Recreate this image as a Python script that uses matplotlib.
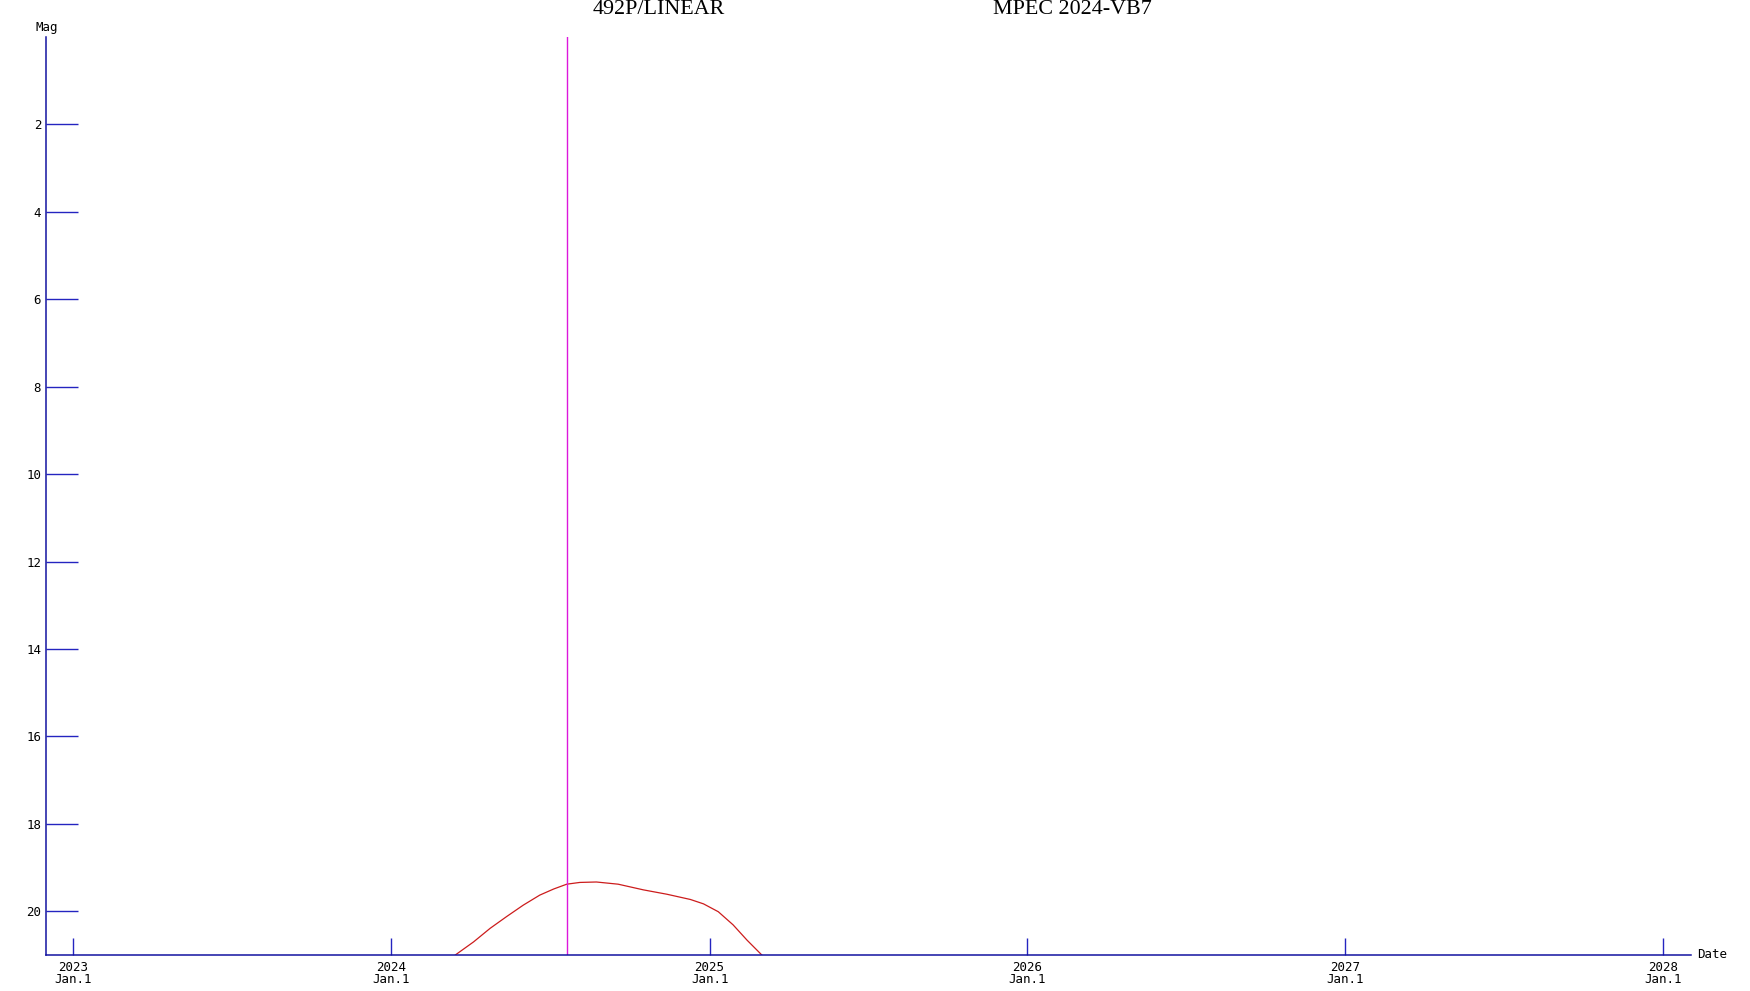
#!/usr/bin/env python3
"""Magnitude vs date plot for 492P/LINEAR (MPEC 2024-VB7)."""

import datetime as dt

import matplotlib
matplotlib.use("Agg")
import matplotlib.pyplot as plt

# ------------------------------------------------------------
# Data
# ------------------------------------------------------------
CURVE_DATES = [
    "2024-03-15", "2024-04-05", "2024-04-24", "2024-05-13", "2024-06-01",
    "2024-06-20", "2024-07-06", "2024-07-21", "2024-08-05", "2024-08-24",
    "2024-09-18", "2024-10-17", "2024-11-13", "2024-12-10", "2024-12-25",
    "2025-01-11", "2025-01-28", "2025-02-13", "2025-02-28", "2025-03-02",
]
CURVE_MAG = [
    21.0, 20.70, 20.39, 20.12, 19.86,
    19.63, 19.49, 19.38, 19.34, 19.33,
    19.38, 19.51, 19.61, 19.73, 19.83,
    20.01, 20.31, 20.66, 20.96, 21.0,
]
NOW_DATE = "2024-07-21"

YEAR_TICKS = [2023, 2024, 2025, 2026, 2027, 2028]
MAG_TICKS = [2, 4, 6, 8, 10, 12, 14, 16, 18, 20]
MAG_RANGE = (0, 21)
DATE_RANGE = ("2022-12-01", "2028-02-02")

TITLE_LEFT = "492P/LINEAR"
TITLE_RIGHT = "MPEC 2024-VB7"

AXIS_COLOR = "#1414a0"
TICK_COLOR = "#2424c0"
CURVE_COLOR = "#cc1c1c"
NOW_COLOR = "#dc18dc"
MONO = "DejaVu Sans Mono"


def to_date(s):
    return dt.datetime.strptime(s, "%Y-%m-%d")


def main():
    W, H = 1750, 991
    fig = plt.figure(figsize=(W / 100, H / 100), dpi=100)
    left, right, bottom, top = 46, 1691, 955, 37
    ax = fig.add_axes([left / W, (H - bottom) / H, (right - left) / W, (bottom - top) / H])

    dates = [to_date(d) for d in CURVE_DATES]
    ax.plot(dates, CURVE_MAG, color=CURVE_COLOR, linewidth=0.9)
    ax.axvline(to_date(NOW_DATE), color=NOW_COLOR, linewidth=1.0)

    ax.set_xlim(to_date(DATE_RANGE[0]), to_date(DATE_RANGE[1]))
    ax.set_ylim(MAG_RANGE[1], MAG_RANGE[0])

    for side in ("top", "right"):
        ax.spines[side].set_visible(False)
    for side in ("left", "bottom"):
        ax.spines[side].set_color(AXIS_COLOR)
        ax.spines[side].set_linewidth(1.1)

    ax.set_yticks(MAG_TICKS)
    ax.set_yticklabels([str(m) for m in MAG_TICKS])
    ax.tick_params(axis="y", direction="in", length=23, width=1.0,
                   color=TICK_COLOR, pad=3.5, labelsize=9)

    ax.set_xticks([dt.datetime(y, 1, 1) for y in YEAR_TICKS])
    ax.set_xticklabels([f"{y}\nJan.1" for y in YEAR_TICKS], linespacing=0.95)
    ax.tick_params(axis="x", direction="in", length=12.2, width=1.0,
                   color=TICK_COLOR, pad=4, labelsize=9)
    for lab in ax.get_xticklabels() + ax.get_yticklabels():
        lab.set_family(MONO)

    fig.text(35 / W, 1 - 27 / H, "Mag", family=MONO, fontsize=9,
             ha="left", va="center")
    fig.text(1697 / W, 1 - 955 / H, "Date", family=MONO, fontsize=9,
             ha="left", va="center")

    fig.text(659 / W, 1 - 13.5 / H, TITLE_LEFT, family="Liberation Serif",
             fontsize=15.8, ha="center", va="baseline")
    fig.text(1072 / W, 1 - 13.5 / H, TITLE_RIGHT, family="Liberation Serif",
             fontsize=15.8, ha="center", va="baseline")

    fig.savefig("out.png", dpi=100)


if __name__ == "__main__":
    main()
